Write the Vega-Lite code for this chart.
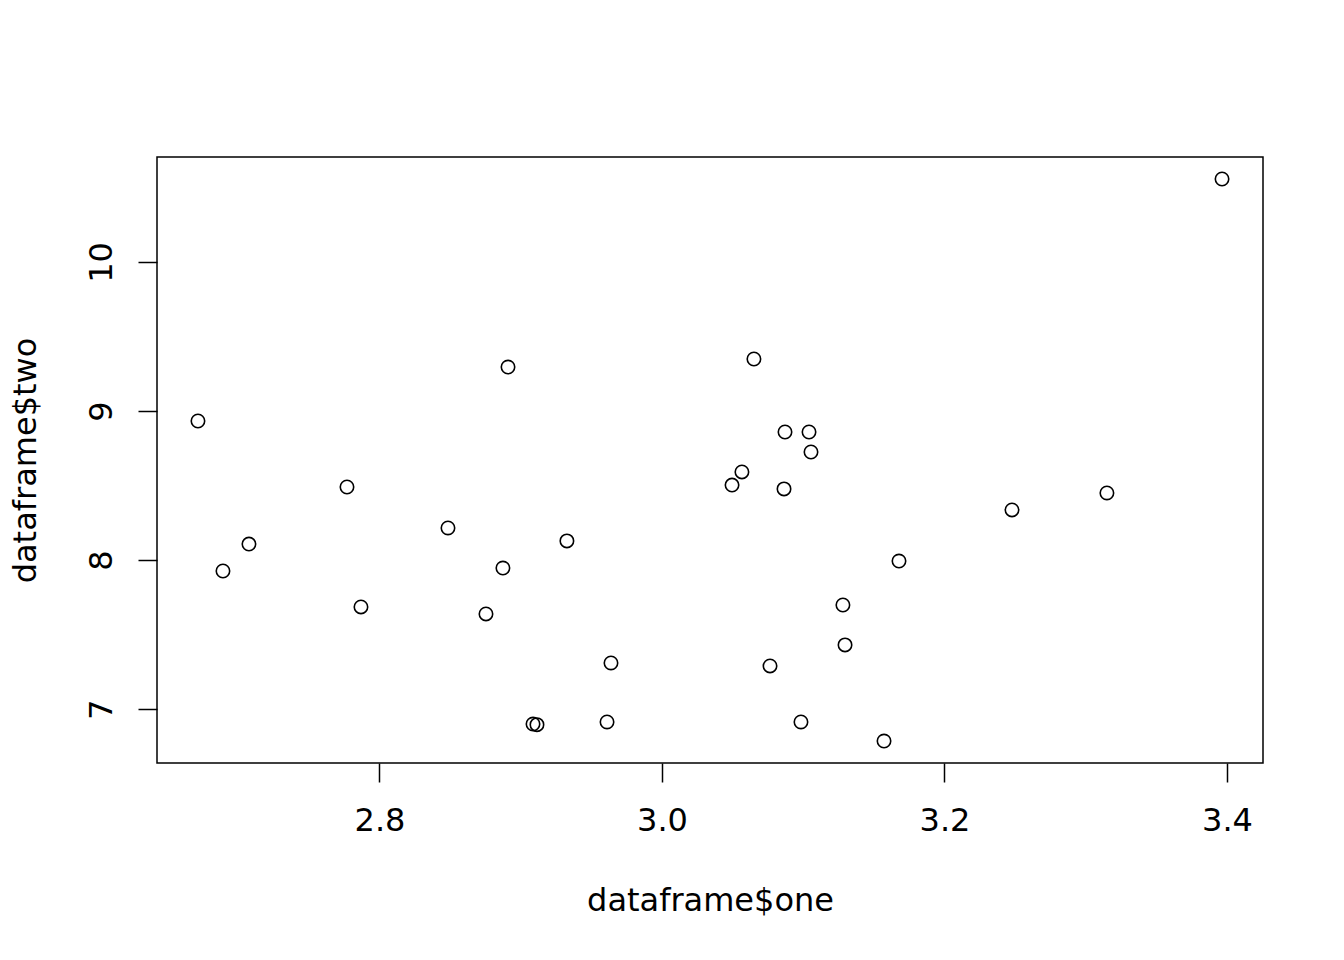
{
  "$schema": "https://vega.github.io/schema/vega-lite/v6.json",
  "width": 1106,
  "height": 606,
  "autosize": {"type": "none"},
  "padding": {"left": 157, "top": 157, "right": 81, "bottom": 197},
  "background": "white",
  "config": {
    "view": {"stroke": "black", "strokeWidth": 1.5},
    "font": "DejaVu Sans"
  },
  "data": {
    "values": [
      {"one": 2.6715, "two": 8.933},
      {"one": 2.6892, "two": 7.926},
      {"one": 2.7076, "two": 8.107},
      {"one": 2.777, "two": 8.490},
      {"one": 2.7869, "two": 7.685},
      {"one": 2.8485, "two": 8.215},
      {"one": 2.8754, "two": 7.638},
      {"one": 2.8874, "two": 7.946},
      {"one": 2.891, "two": 9.295},
      {"one": 2.9087, "two": 6.899},
      {"one": 2.9115, "two": 6.895},
      {"one": 2.9327, "two": 8.128},
      {"one": 2.9611, "two": 6.913},
      {"one": 2.9639, "two": 7.309},
      {"one": 3.0496, "two": 8.503},
      {"one": 3.0566, "two": 8.591},
      {"one": 3.0651, "two": 9.349},
      {"one": 3.0765, "two": 7.289},
      {"one": 3.0864, "two": 8.477},
      {"one": 3.0871, "two": 8.859},
      {"one": 3.0984, "two": 6.913},
      {"one": 3.1041, "two": 8.859},
      {"one": 3.1055, "two": 8.725},
      {"one": 3.1281, "two": 7.698},
      {"one": 3.1296, "two": 7.430},
      {"one": 3.1572, "two": 6.785},
      {"one": 3.1678, "two": 7.993},
      {"one": 3.2478, "two": 8.336},
      {"one": 3.315, "two": 8.450},
      {"one": 3.3965, "two": 10.557}
    ]
  },
  "mark": {"type": "point", "shape": "circle", "filled": false, "stroke": "black", "strokeWidth": 1.6, "size": 180, "opacity": 1},
  "encoding": {
    "x": {
      "field": "one", "type": "quantitative",
      "scale": {"domain": [2.6425, 3.4255], "nice": false, "zero": false},
      "axis": {
        "title": "dataframe$one",
        "values": [2.8, 3.0, 3.2, 3.4],
        "format": ".1f",
        "grid": false, "domain": false,
        "tickColor": "black", "tickSize": 19, "tickWidth": 1.5,
        "labelColor": "black", "labelFontSize": 32, "labelPadding": 38, "labelFont": "DejaVu Sans",
        "labelBaseline": "middle",
        "titleColor": "black", "titleFontSize": 32, "titleFontWeight": "normal", "titleFont": "DejaVu Sans",
        "titleBaseline": "middle", "titleY": 137
      }
    },
    "y": {
      "field": "two", "type": "quantitative",
      "scale": {"domain": [6.6376, 10.7047], "nice": false, "zero": false},
      "axis": {
        "title": "dataframe$two",
        "values": [7, 8, 9, 10],
        "grid": false, "domain": false,
        "tickColor": "black", "tickSize": 19, "tickWidth": 1.5,
        "labelColor": "black", "labelFontSize": 32, "labelPadding": 27, "labelFont": "DejaVu Sans",
        "labelAngle": -90, "labelAlign": "center", "labelBaseline": "alphabetic",
        "titleColor": "black", "titleFontSize": 32, "titleFontWeight": "normal", "titleFont": "DejaVu Sans",
        "titleAngle": -90, "titleBaseline": "middle", "titleAlign": "center", "titleX": -132, "titleY": 303
      }
    }
  }
}
